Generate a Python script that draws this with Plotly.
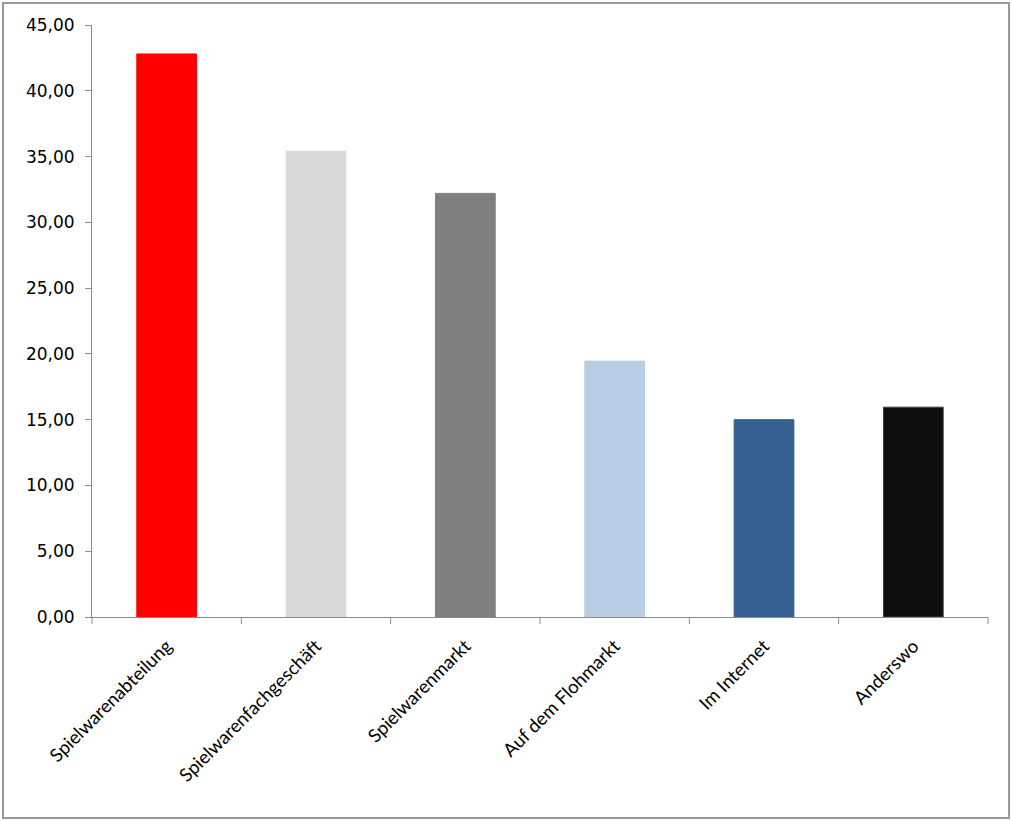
import plotly.graph_objects as go

categories = ["Spielwarenabteilung", "Spielwarenfachgeschäft", "Spielwarenmarkt",
              "Auf dem Flohmarkt", "Im Internet", "Anderswo"]
values = [42.8, 35.4, 32.2, 19.45, 15.0, 15.95]
colors = ["#ff0000", "#d9d9d9", "#7f7f7f", "#b9cde5", "#366092", "#0d0d0d"]
line_colors = ["#ff0000", "#d9d9d9", "#7f7f7f", "#b9cde5", "#366092", "#404040"]
tick_vals = [0, 5, 10, 15, 20, 25, 30, 35, 40, 45]

W, H = 1012, 821
ml, mr, mt, mb = 92, 24, 25, 204

fig = go.Figure(go.Bar(
    x=categories, y=values,
    marker=dict(color=colors, line=dict(color=line_colors, width=1)),
    width=0.4,
))

pw, ph = W - ml - mr, H - mt - mb
def px_x(p):
    return (p - ml) / pw
def px_y(p):
    return (H - mb - p) / ph

fig.update_layout(
    width=W, height=H,
    margin=dict(l=ml, r=mr, t=mt, b=mb),
    paper_bgcolor="white", plot_bgcolor="white",
    font=dict(family="DejaVu Sans", size=17, color="#000000"),
    separators=",.",
    showlegend=False,
    bargap=0.6,
    xaxis=dict(
        showline=True, linecolor="#8c8c8c", linewidth=1,
        ticks="outside", ticklen=0, tickangle=-45,
        showgrid=False, tickfont=dict(family="Lato", size=18.5),
        ticklabelstandoff=10,
    ),
    yaxis=dict(
        range=[0, 45], tickvals=tick_vals, tickformat=".2f",
        showline=True, linecolor="#8c8c8c", linewidth=1,
        ticks="outside", ticklen=6, tickcolor="#8c8c8c",
        showgrid=False, zeroline=False, tickfont=dict(size=17),
        ticklabelstandoff=7,
    ),
    shapes=[
        dict(type="rect", xref="paper", yref="paper",
             x0=px_x(3), x1=px_x(1009), y0=px_y(818), y1=px_y(3),
             line=dict(color="#9a9a9a", width=2), layer="below"),
    ] + [
        dict(type="line", xref="paper", yref="paper",
             x0=i / 6, x1=i / 6, y0=0, y1=px_y(H - mb + 7),
             line=dict(color="#8c8c8c", width=1))
        for i in range(7)
    ],
)

fig.write_html("out.html", config={"displayModeBar": False},
               post_script="document.body.style.margin='0';document.body.style.overflow='hidden';")
